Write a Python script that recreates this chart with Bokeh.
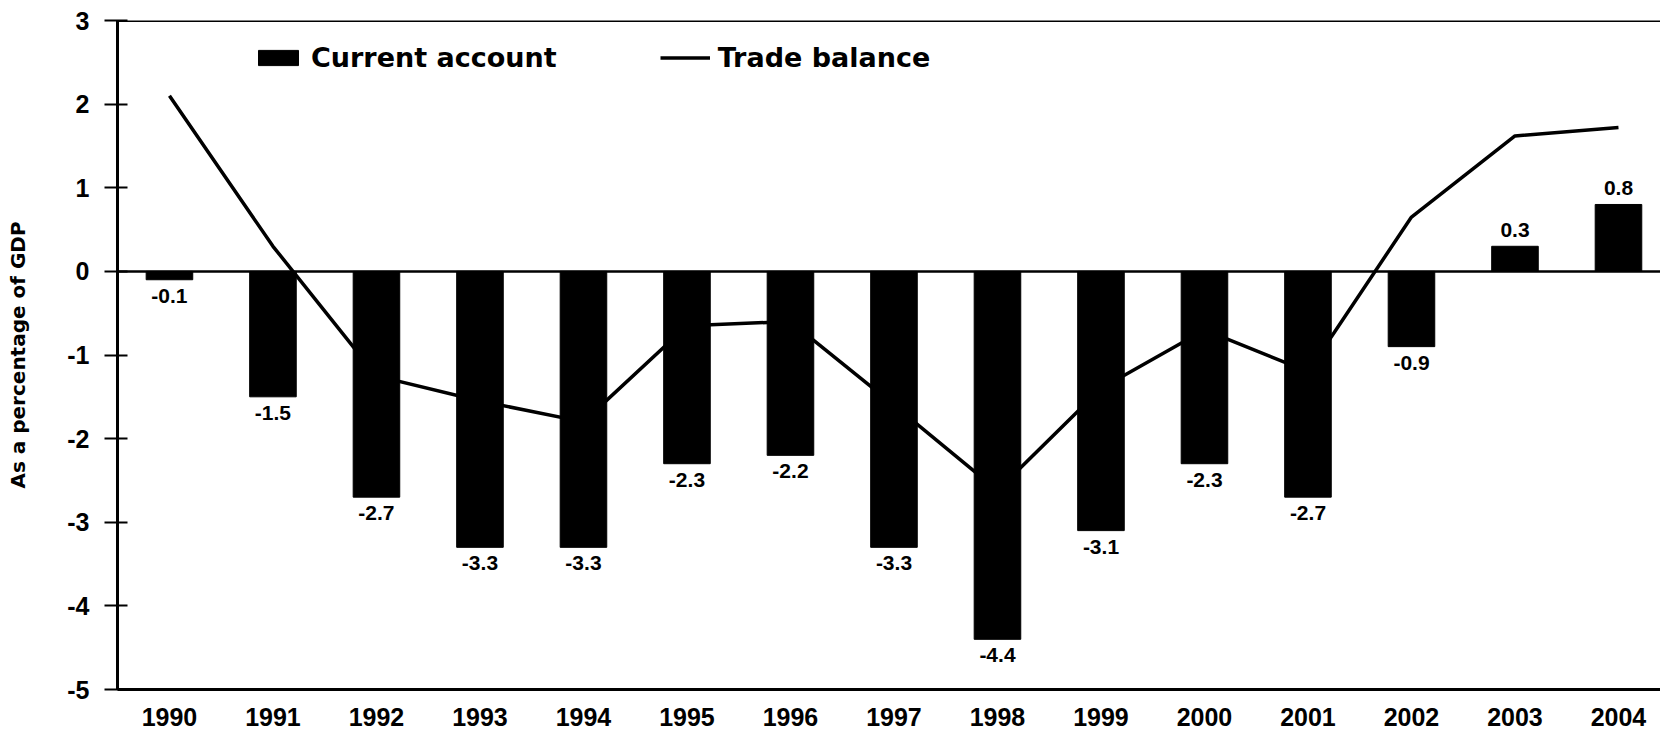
from bokeh.plotting import figure
from bokeh.models import (ColumnDataSource, Range1d, FixedTicker, Span, Legend, LegendItem,
                          PrintfTickFormatter)
from bokeh.core.properties import value
from bokeh.embed import file_html
from bokeh.resources import INLINE

years = [1990, 1991, 1992, 1993, 1994, 1995, 1996, 1997, 1998, 1999, 2000, 2001, 2002, 2003, 2004]
current_account = [-0.1, -1.5, -2.7, -3.3, -3.3, -2.3, -2.2, -3.3, -4.4, -3.1, -2.3, -2.7, -0.9, 0.3, 0.8]
trade_balance = [2.1, 0.3, -1.25, -1.55, -1.8, -0.65, -0.6, -1.6, -2.62, -1.4, -0.7, -1.2, 0.65, 1.62, 1.72]
y_ticks = [-5, -4, -3, -2, -1, 0, 1, 2, 3]

TICK_FONT = "Liberation Sans"
TEXT_FONT = "DejaVu Sans"

p = figure(width=1660, height=736, output_backend="svg", toolbar_location=None,
           x_range=Range1d(1989.498, 2004.406), y_range=Range1d(-5, 3),
           min_border_left=117, min_border_top=20, min_border_right=0, min_border_bottom=47)
p.outline_line_color = None
p.xgrid.visible = False
p.ygrid.visible = False
p.background_fill_color = "white"
p.border_fill_color = "white"

# trade balance line (drawn first, bars on top)
line_r = p.line(years, trade_balance, line_color="black", line_width=3.5, line_join="round")

# current account bars
bars_r = p.vbar(x=years, top=current_account, bottom=0, width=0.45,
                fill_color="black", line_color="black")

# zero line and top border
p.add_layout(Span(location=0, dimension="width", line_color="black", line_width=2.5))
p.add_layout(Span(location=3, dimension="width", line_color="black", line_width=3))

# value labels
neg = [i for i, v in enumerate(current_account) if v < 0]
pos = [i for i, v in enumerate(current_account) if v >= 0]
src_neg = ColumnDataSource(dict(x=[years[i] for i in neg], y=[current_account[i] for i in neg],
                                t=[f"{current_account[i]:.1f}" for i in neg]))
src_pos = ColumnDataSource(dict(x=[years[i] for i in pos], y=[current_account[i] for i in pos],
                                t=[f"{current_account[i]:.1f}" for i in pos]))
p.text(x="x", y="y", text="t", source=src_neg, text_align="center", text_baseline="top",
       y_offset=9, text_font=value(TICK_FONT), text_font_style="bold",
       text_font_size="21px", text_color="black")
p.text(x="x", y="y", text="t", source=src_pos, text_align="center", text_baseline="bottom",
       y_offset=-9, text_font=value(TICK_FONT), text_font_style="bold",
       text_font_size="21px", text_color="black")

# axes
p.xaxis.ticker = FixedTicker(ticks=years)
p.xaxis.major_tick_out = 0
p.xaxis.major_tick_in = 0
p.xaxis.minor_tick_line_color = None
p.xaxis.axis_line_width = 3
p.xaxis.major_label_standoff = 18
p.xaxis.major_label_text_font = TICK_FONT
p.xaxis.major_label_text_font_style = "bold"
p.xaxis.major_label_text_font_size = "25px"
p.xaxis.major_label_text_color = "black"

p.yaxis.ticker = FixedTicker(ticks=y_ticks)
p.yaxis.formatter = PrintfTickFormatter(format="%d")
p.yaxis.major_tick_out = 13
p.yaxis.major_tick_in = 10
p.yaxis.major_tick_line_width = 2
p.yaxis.minor_tick_line_color = None
p.yaxis.axis_line_width = 3
p.yaxis.major_label_standoff = 15
p.yaxis.major_label_text_font = TICK_FONT
p.yaxis.major_label_text_font_style = "bold"
p.yaxis.major_label_text_font_size = "25px"
p.yaxis.major_label_text_color = "black"
p.yaxis.axis_label = "As a percentage of GDP"
p.yaxis.axis_label_text_font = TEXT_FONT
p.yaxis.axis_label_text_font_style = "bold"
p.yaxis.axis_label_text_font_size = "20px"
p.yaxis.axis_label_text_color = "black"
p.yaxis.axis_label_standoff = 34

legend = Legend(items=[LegendItem(label="Current account", renderers=[bars_r]),
                       LegendItem(label="Trade balance", renderers=[line_r])],
                orientation="horizontal", location=(136, 616),
                glyph_width=50, glyph_height=19, label_standoff=8, spacing=103,
                padding=0, margin=0, border_line_color=None, background_fill_alpha=0,
                label_text_font=TEXT_FONT, label_text_font_style="bold",
                label_text_font_size="27px", label_text_color="black")
p.add_layout(legend)

open("out.html", "w").write(file_html(p, INLINE))
